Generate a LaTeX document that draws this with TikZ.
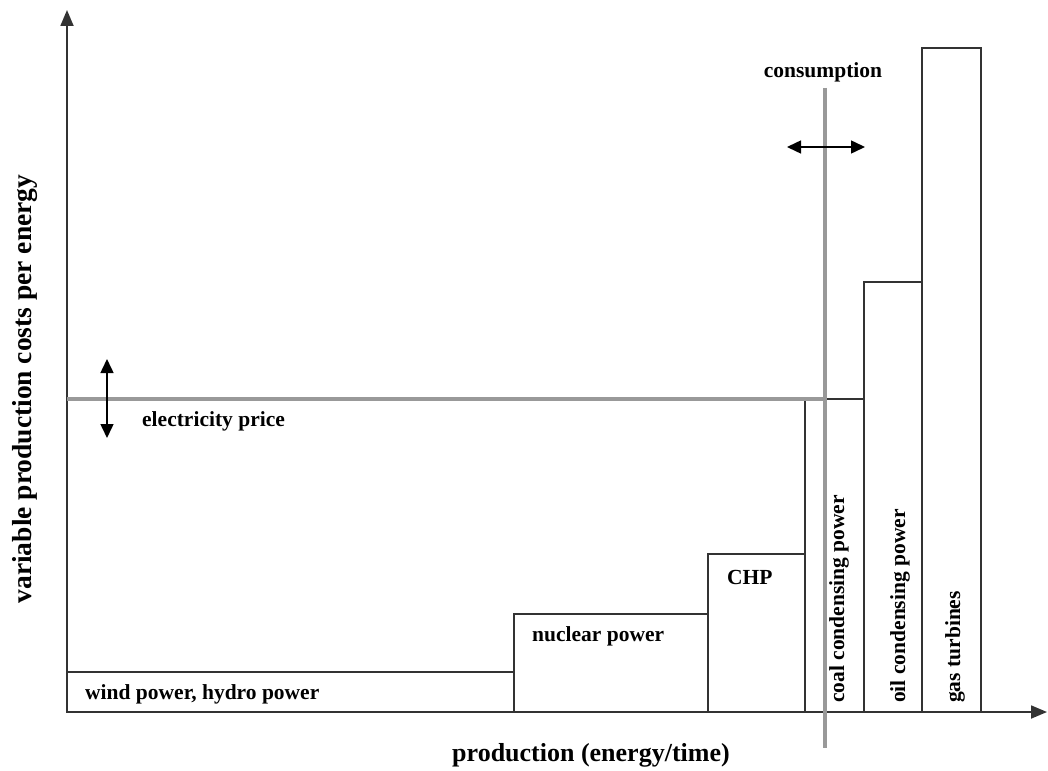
\documentclass[tikz,border=0pt]{standalone}
\usepackage{fontspec}
\setmainfont{Liberation Serif}
\usepackage{tikz}
\usetikzlibrary{arrows.meta}
\colorlet{linegray}{black!40}

\begin{document}
\begin{tikzpicture}[x=1pt, y=-1pt,
    axis/.style = {line width=1.8pt, black!80, -{Stealth[inset=0pt, length=16pt, width=13pt]}},
    bar/.style = {line width=1.8pt, black!80},
    marker/.style = {line width=4.5pt, linegray},
    movearrow/.style = {line width=1.5pt, {Stealth[inset=0pt, length=14pt, width=13pt]}-{Stealth[inset=0pt, length=14pt, width=13pt]}},
    lbl/.style = {inner sep=0pt, font=\fontsize{21.5}{24}\selectfont\bfseries},
    axlbl/.style = {inner sep=0pt, font=\fontsize{26}{30}\selectfont\bfseries}]
        \useasboundingbox (0,0) rectangle (1048,770);
        % axes
        \coordinate (origin) at (67,712);
        \coordinate (ytip) at (67,10);
        \coordinate (xtip) at (1047,712);
        \draw[axis] (origin) -- (ytip);
        \draw[axis] (origin) -- (xtip);
        % merit order bars
        \draw[bar] (67,712) rectangle (514,672);
        \draw[bar] (514,712) rectangle (708,614);
        \draw[bar] (708,712) rectangle (805,554);
        \draw[bar] (805,712) rectangle (864,399);
        \draw[bar] (864,712) rectangle (922,282);
        \draw[bar] (922,712) rectangle (981,48);
        % price and consumption
        \coordinate (p1) at (67,399);
        \coordinate (p2) at (825,399);
        \coordinate (c1) at (825,88);
        \coordinate (c2) at (825,748);
        \draw[marker] (p1) -- (p2);
        \draw[marker] (c1) -- (c2);
        \coordinate (u1) at (107,359);
        \coordinate (u2) at (107,438);
        \coordinate (h1) at (787,147);
        \coordinate (h2) at (865,147);
        \draw[movearrow] (u1) -- (u2);
        \draw[movearrow] (h1) -- (h2);
        % labels
        \node[lbl, anchor=west] (wind) at (85,694) {wind power, hydro power};
        \node[lbl, anchor=west] (nuclear) at (532,636) {nuclear power};
        \node[lbl, anchor=west] (chp) at (727,577) {CHP};
        \node[lbl, anchor=west, rotate=90] (coal) at (839,703) {coal condensing power};
        \node[lbl, anchor=west, rotate=90] (oil) at (900,703) {oil condensing power};
        \node[lbl, anchor=west, rotate=90] (gas) at (955,703) {gas turbines};
        \node[lbl, anchor=west] (price) at (142,421) {electricity price};
        \node[lbl] (consumption) at (823,72) {consumption};
        \node[axlbl] (xlabel) at (591,755) {production (energy/time)};
        \node[axlbl, rotate=90, font=\fontsize{27.5}{30}\selectfont\bfseries] (ylabel) at (25,389) {variable production costs per energy};
    \end{tikzpicture}
\end{document}
